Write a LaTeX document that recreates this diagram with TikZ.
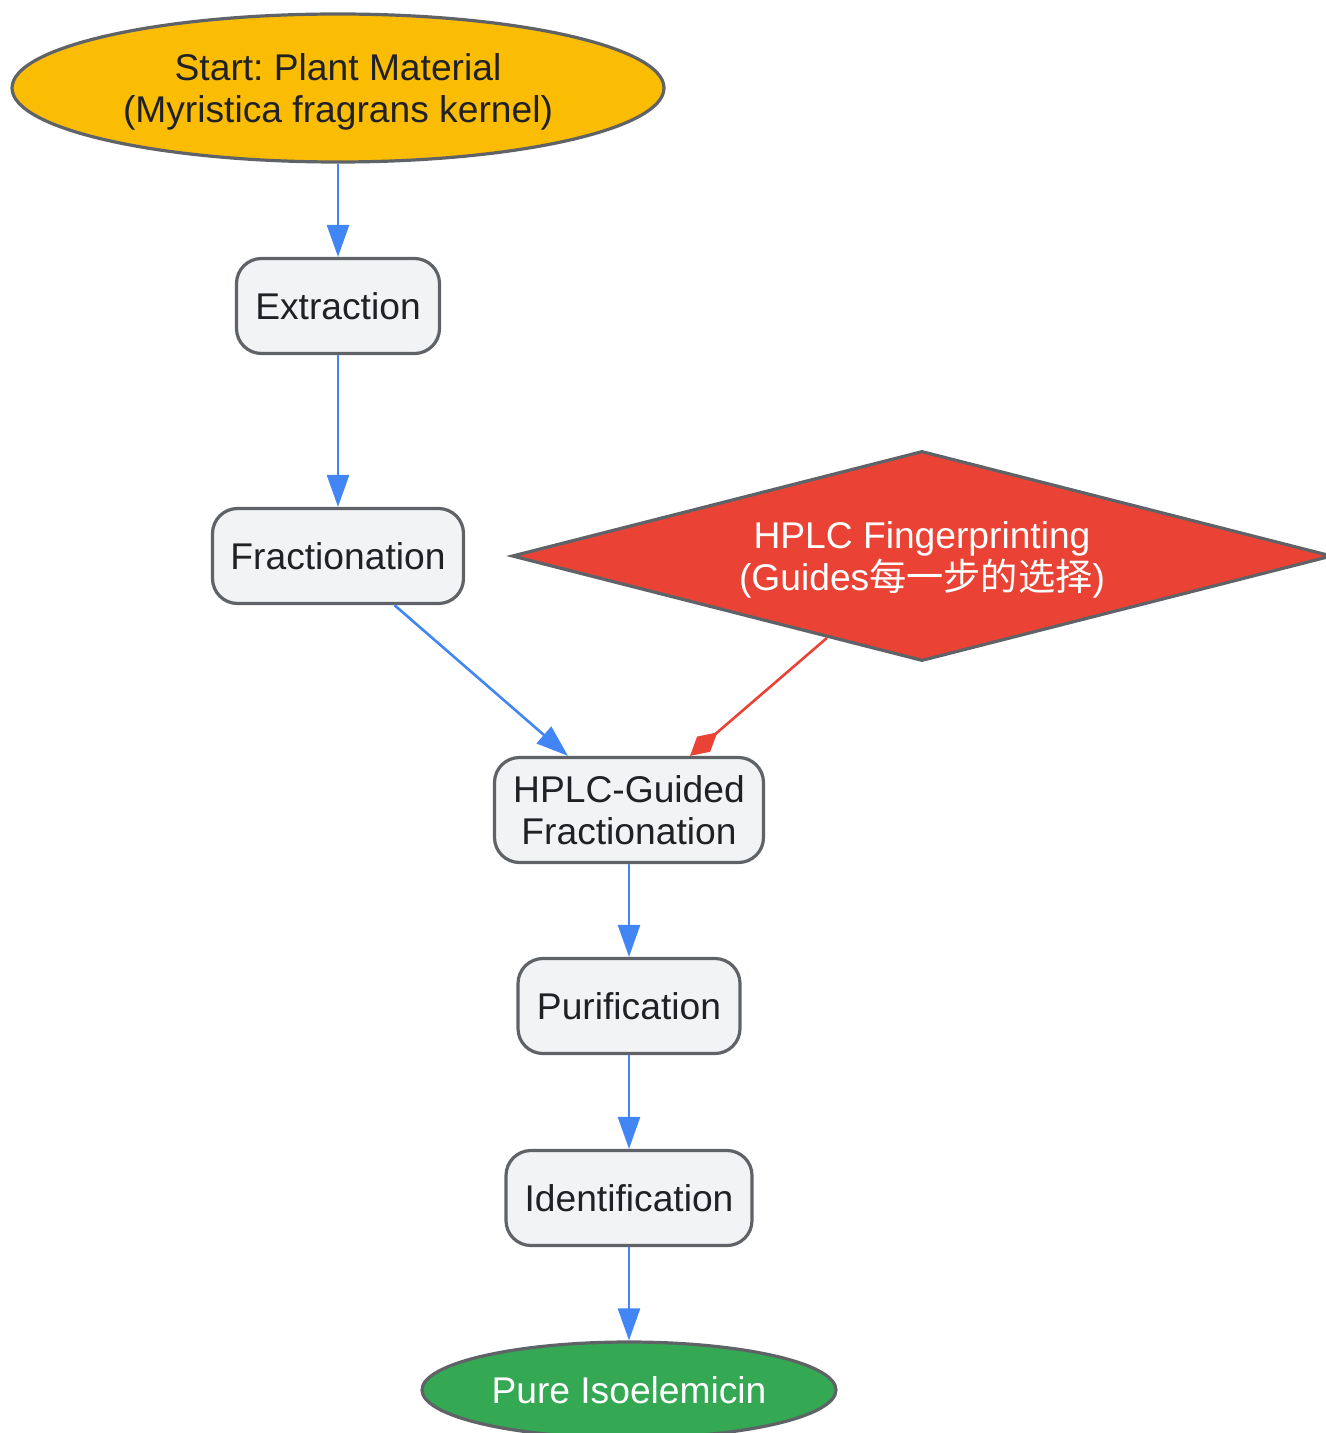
\documentclass[tikz,border=0pt]{standalone}
\usepackage{fontspec}
\setmainfont{Liberation Sans}
\newfontfamily\cjk{Noto Sans CJK SC}
\usetikzlibrary{shapes.geometric,arrows.meta,calc}
\frenchspacing

\definecolor{flowblue}{HTML}{4285F4}
\definecolor{flowred}{HTML}{EA4335}
\definecolor{flowyellow}{HTML}{FBBC04}
\definecolor{flowgreen}{HTML}{34A853}
\definecolor{bordergray}{HTML}{5F6368}
\definecolor{boxfill}{HTML}{F1F3F4}
\definecolor{textdark}{HTML}{202124}

\tikzset{
    labelfont/.style={font=\fontsize{18.6}{21}\selectfont, align=center},
    stepbox/.style={labelfont, draw=bordergray, line width=1.6pt, fill=boxfill, rounded corners=12.5pt, text=textdark, inner sep=0pt, minimum height=47.5pt},
    endpoint/.style={labelfont, ellipse, draw=bordergray, line width=1.6pt, inner sep=0pt},
    flow/.style={flowblue, line width=1.3pt, -{Triangle[length=16pt,width=11pt]}},
    guide/.style={flowred, line width=1.3pt, -{Diamond[length=18pt,width=10pt]}}
}

\begin{document}
\begin{tikzpicture}[x=0.5pt,y=-0.5pt]
    \useasboundingbox (0,0) rectangle (1326,1433);

    % start and end
    \node[endpoint, fill=flowyellow, text=textdark, text depth=0pt, minimum width=326pt, minimum height=74pt] (start) at (338,88) {Start: Plant Material\\(Myristica fragrans kernel)};
    \node[endpoint, fill=flowgreen, text=white, minimum width=207pt, minimum height=48pt] (pure) at (629,1390) {Pure Isoelemicin};

    % steps
    \node[stepbox, minimum width=101.5pt] (extr) at (338,306) {Extraction};
    \node[stepbox, minimum width=125.5pt] (frac) at (338,556) {Fractionation};
    \node[stepbox, minimum width=134.5pt, minimum height=52.5pt] (hplcg) at (629,810) {HPLC-Guided\\Fractionation};
    \node[stepbox, minimum width=111pt] (puri) at (629,1006) {Purification};
    \node[stepbox, minimum width=123pt] (ident) at (629,1198) {Identification};

    % fingerprint check
    \node[labelfont, diamond, aspect=3.9, inner sep=0pt, text depth=0pt, minimum width=410pt, minimum height=105pt, draw=bordergray, line width=1.6pt, fill=flowred, text=white] (fprint) at (922,556) {HPLC Fingerprinting\\(Guides{\cjk 每一步的选择})};

    % connectors
    \draw[flow] (start) -- (extr);
    \draw[flow] (extr) -- (frac);
    \draw[flow] (frac) -- ($(hplcg.north)+(-61,0)$);
    \draw[guide] (fprint) -- ($(hplcg.north)+(61,0)$);
    \draw[flow] (hplcg) -- (puri);
    \draw[flow] (puri) -- (ident);
    \draw[flow] (ident) -- (pure);
\end{tikzpicture}
\end{document}
